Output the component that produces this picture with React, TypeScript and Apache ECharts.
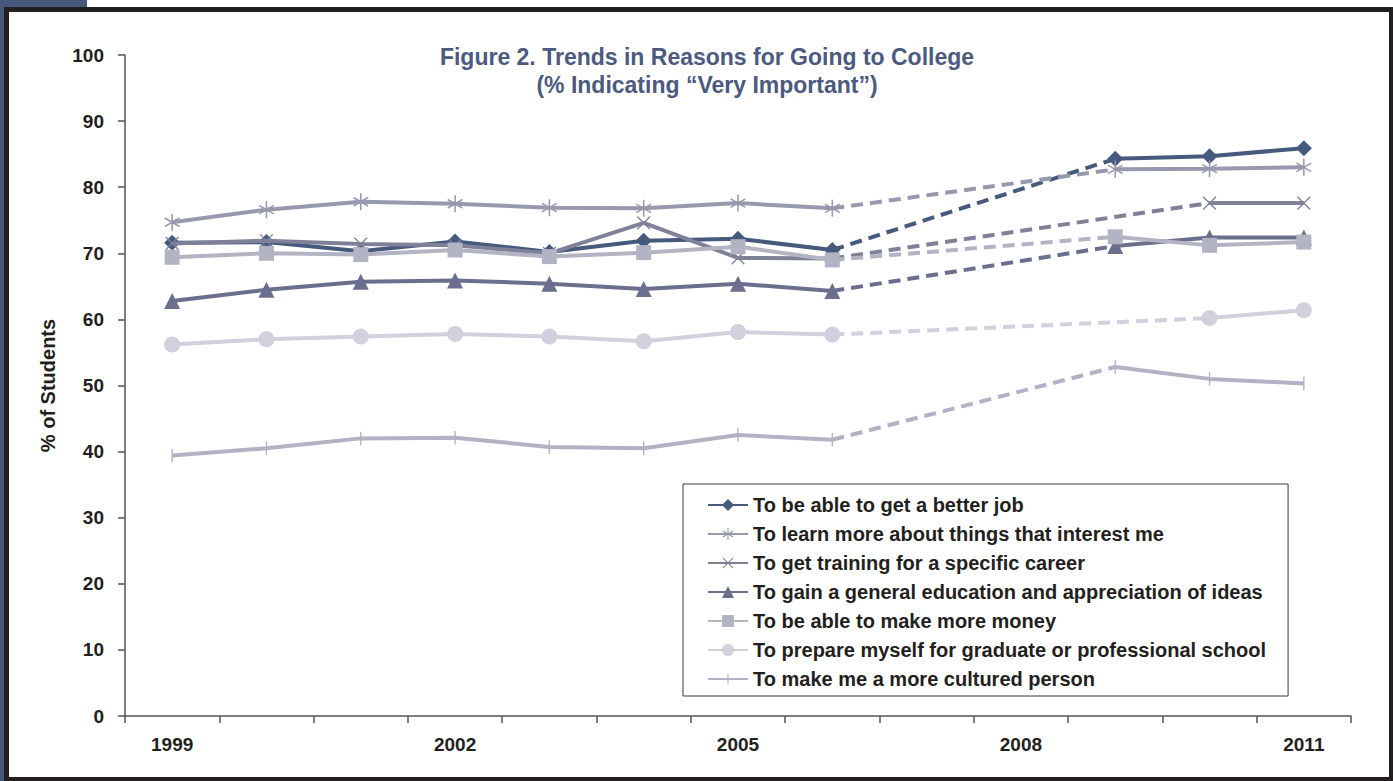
import React, { useEffect, useRef } from "react";
import * as echarts from "echarts";

const years = ["1999", "2000", "2001", "2002", "2003", "2004", "2005", "2006", "2007", "2008", "2009", "2010", "2011"];

const seriesNames = [
  "To be able to get a better job",
  "To learn more about things that interest me",
  "To get training for a specific career",
  "To gain a general education and appreciation of ideas",
  "To be able to make more money",
  "To prepare myself for graduate or professional school",
  "To make me a more cultured person",
];

const titleLine1 = "Figure 2. Trends in Reasons for Going to College";
const titleLine2 = "(% Indicating “Very Important”)";

const betterJob = [71.6, 71.7, 70.3, 71.8, 70.2, 71.9, 72.2, 70.5, null, null, 84.3, 84.7, 85.9];
const learnMore = [74.7, 76.6, 77.8, 77.5, 76.9, 76.8, 77.6, 76.8, null, null, 82.7, 82.8, 83.0];
const training = [71.5, 71.9, 71.4, 71.2, 70.0, 74.6, 69.3, 69.2, null, null, null, 77.6, 77.6];
const genEd = [62.8, 64.5, 65.7, 65.9, 65.4, 64.6, 65.4, 64.3, null, null, 71.1, 72.4, 72.4];
const money = [69.4, 70.0, 69.8, 70.5, 69.5, 70.1, 71.0, 69.0, null, null, 72.5, 71.2, 71.7];
const gradSchool = [56.2, 57.0, 57.4, 57.8, 57.4, 56.7, 58.1, 57.7, null, null, null, 60.2, 61.4];
const cultured = [39.4, 40.5, 42.0, 42.1, 40.7, 40.5, 42.5, 41.8, null, null, 52.8, 51.0, 50.3];

const allData = [betterJob, learnMore, training, genEd, money, gradSchool, cultured];
const colors = ["#465a7d", "#9799ae", "#7f8199", "#6a6f8e", "#b2b4c3", "#d0d1dc", "#b1b2c4"];

function seg(x1: number, y1: number, x2: number, y2: number, w: number) {
  const dx = x2 - x1, dy = y2 - y1;
  const len = Math.sqrt(dx * dx + dy * dy);
  const nx = (-dy / len) * w, ny = (dx / len) * w;
  const p = (a: number) => a.toFixed(3);
  return `M${p(x1 + nx)},${p(y1 + ny)} L${p(x2 + nx)},${p(y2 + ny)} L${p(x2 - nx)},${p(y2 - ny)} L${p(x1 - nx)},${p(y1 - ny)} Z `;
}
const specks = "M0,0 L0.01,0 L0,0.01 Z M20,20 L19.99,20 L20,19.99 Z";
const asterisk =
  "path://" +
  seg(10, 0, 10, 20, 0.9) +
  seg(10 + 8.66, 5, 10 - 8.66, 15, 0.9) +
  seg(10 + 8.66, 15, 10 - 8.66, 5, 0.9) +
  specks;
const xMark = "path://" + seg(1.5, 1.5, 18.5, 18.5, 0.9) + seg(18.5, 1.5, 1.5, 18.5, 0.9) + specks;
const vBar = "path://" + seg(10, 1, 10, 19, 0.9) + specks;

const symbols = ["diamond", asterisk, xMark, "triangle", "rect", "circle", vBar];
const symbolSizes = [16, 17, 15, 16, 15, 16, 15];

function dashedPart(arr: (number | null)[]) {
  let last = -1;
  for (let i = 0; i < arr.length; i++) {
    if (arr[i] == null) break;
    last = i;
  }
  let next = -1;
  for (let i = last + 1; i < arr.length; i++) {
    if (arr[i] != null) {
      next = i;
      break;
    }
  }
  return arr.map((v, i) => (i === last || i === next ? v : null));
}

export default function App() {
  const ref = useRef<HTMLDivElement>(null);
  useEffect(() => {
    if (!ref.current) return;
    const chart = echarts.init(ref.current, null, { renderer: "svg" });
    const textColor = "#231f20";
    const font = "'Liberation Sans', Arial, Helvetica, sans-serif";
    const titleStyle = {
      fontFamily: font,
      fontWeight: "bold",
      fontSize: 23,
      lineHeight: 23,
      color: "#4b5a7e",
    };

    const mainSeries = allData.map((d, i) => ({
      name: seriesNames[i],
      type: "line",
      data: d,
      connectNulls: false,
      symbol: symbols[i],
      symbolSize: symbolSizes[i],
      symbolKeepAspect: true,
      lineStyle: { color: colors[i], width: 4 },
      itemStyle: { color: colors[i] },
      z: 10 + i,
    }));
    const dashSeries = allData.map((d, i) => ({
      name: "dash-" + i,
      type: "line",
      data: dashedPart(d),
      connectNulls: true,
      symbol: "none",
      lineStyle: { color: colors[i], width: 4, type: [12, 7] },
      itemStyle: { color: colors[i] },
      z: 3 + i,
    }));

    chart.setOption({
      animation: false,
      backgroundColor: "#ffffff",
      textStyle: { fontFamily: font },
      title: {
        text: titleLine1,
        subtext: titleLine2,
        left: 702,
        top: 40,
        itemGap: 5,
        textAlign: "center",
        textStyle: titleStyle,
        subtextStyle: titleStyle,
      },
      legend: {
        data: seriesNames,
        orient: "vertical",
        left: 683,
        top: 484,
        itemWidth: 40,
        itemHeight: 15,
        itemGap: 9,
        padding: [11, 22, 7, 24],
        borderColor: "#3a3a3a",
        borderWidth: 1,
        backgroundColor: "#ffffff",
        textStyle: { fontFamily: font, fontWeight: "bold", fontSize: 20, color: textColor },
      },
      grid: { left: 125, right: 42, top: 55, bottom: 65, containLabel: false },
      xAxis: {
        type: "category",
        data: years,
        boundaryGap: true,
        axisLine: { lineStyle: { color: "#555555", width: 1.5 } },
        axisTick: { show: true, interval: 0, alignWithLabel: false, length: 7, lineStyle: { color: "#555555", width: 1.5 } },
        axisLabel: { interval: 2, margin: 19, fontFamily: font, fontWeight: "bold", fontSize: 19, color: textColor },
        splitLine: { show: false },
      },
      yAxis: {
        type: "value",
        min: 0,
        max: 100,
        interval: 10,
        name: "% of Students",
        nameLocation: "middle",
        nameGap: 67,
        nameRotate: 90,
        nameTextStyle: { fontFamily: font, fontWeight: "bold", fontSize: 20, color: textColor },
        axisLine: { show: true, lineStyle: { color: "#555555", width: 1.5 } },
        axisTick: { show: true, length: 7, lineStyle: { color: "#555555", width: 1.5 } },
        axisLabel: { margin: 21, fontFamily: font, fontWeight: "bold", fontSize: 19, color: textColor },
        splitLine: { show: false },
      },
      graphic: [
        { type: "rect", shape: { x: 0, y: 0, width: 87, height: 8 }, style: { fill: "#46597c" }, z: 100 },
        { type: "rect", shape: { x: 0, y: 0, width: 4, height: 781 }, style: { fill: "#46597c" }, z: 100 },
        { type: "rect", shape: { x: 4, y: 7, width: 1389, height: 5 }, style: { fill: "#231f20" }, z: 100 },
        { type: "rect", shape: { x: 4, y: 7, width: 5, height: 774 }, style: { fill: "#231f20" }, z: 100 },
        { type: "rect", shape: { x: 1389, y: 7, width: 4, height: 774 }, style: { fill: "#231f20" }, z: 100 },
        { type: "rect", shape: { x: 4, y: 777, width: 1389, height: 4 }, style: { fill: "#231f20" }, z: 100 },
      ],
      series: [...dashSeries, ...mainSeries],
    });
    return () => chart.dispose();
  }, []);
  return <div ref={ref} style={{ position: "fixed", left: 0, top: 0, width: 1393, height: 781 }} />;
}
